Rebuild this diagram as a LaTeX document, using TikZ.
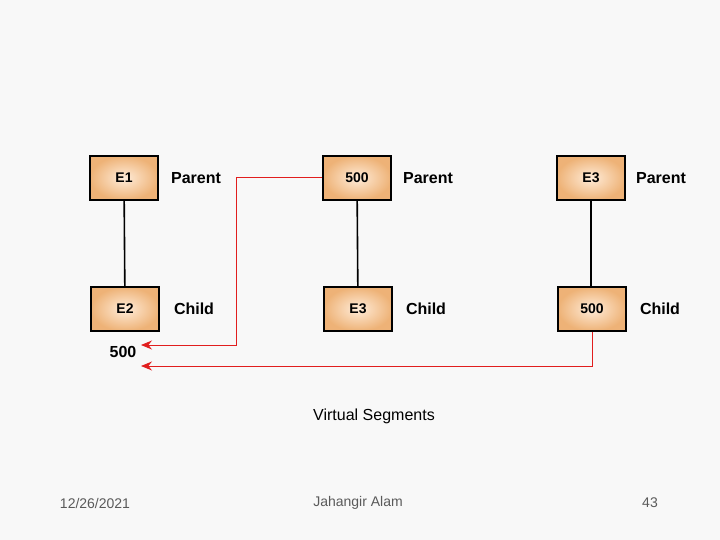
\documentclass[tikz,border=0pt]{standalone}
\usepackage{fontspec}
\setmainfont{Liberation Sans}
\usetikzlibrary{arrows.meta}
\begin{document}
\begin{tikzpicture}[x=1pt,y=-1pt,
  box/.style={draw=black,line width=1.6pt,inner color=orange!15!white,outer color=orange!55!brown!60!white,minimum width=68pt,minimum height=44pt,font=\bfseries\fontsize{14}{16}\selectfont},
  lbl/.style={font=\bfseries\fontsize{16}{18}\selectfont},
  red/.style={draw={rgb,255:red,225;green,30;blue,30},line width=1pt,-{Stealth[length=11pt,width=9pt]},color={rgb,255:red,225;green,30;blue,30}},
  foot/.style={font=\fontsize{14}{16}\selectfont,text={rgb,255:red,90;green,90;blue,90}}]
\useasboundingbox[fill={rgb,255:red,248;green,248;blue,248}] (0,0) rectangle (720,540);
\node[box] (e1) at (124,178) {E1};
\node[box] (e2) at (125,309) {E2};
\node[box] (p2) at (357,178) {500};
\node[box] (c2) at (358,309) {E3};
\node[box] (p3) at (591,178) {E3};
\node[box] (c3) at (592,309) {500};
\draw[line width=1.6pt] (e1) -- (e2);
\draw[line width=1.6pt] (p2) -- (c2);
\draw[line width=1.6pt] (p3) -- (p3 |- c3.north);
\node[lbl] (l1) at (196,178) {Parent};
\node[lbl] (l2) at (428,178) {Parent};
\node[lbl] (l3) at (661,178) {Parent};
\node[lbl] (l4) at (194,309) {Child};
\node[lbl] (l5) at (426,309) {Child};
\node[lbl] (l6) at (660,309) {Child};
\node[lbl] (v) at (123,352) {500};
\coordinate (t1) at (141,345);
\coordinate (t2) at (141,366);
\draw[red] (p2.west) -- (236,178) -- (236,345) -- (t1);
\draw[red] (c3.south) -- (592,366) -- (t2);
\node[font=\fontsize{16}{18}\selectfont] (vs) at (374,416) {Virtual Segments};
\node[foot] (f1) at (95,503) {12/26/2021};
\node[foot] (f2) at (358,503) {Jahangir Alam};
\node[foot] (f3) at (650,503) {43};
\end{tikzpicture}
\end{document}
